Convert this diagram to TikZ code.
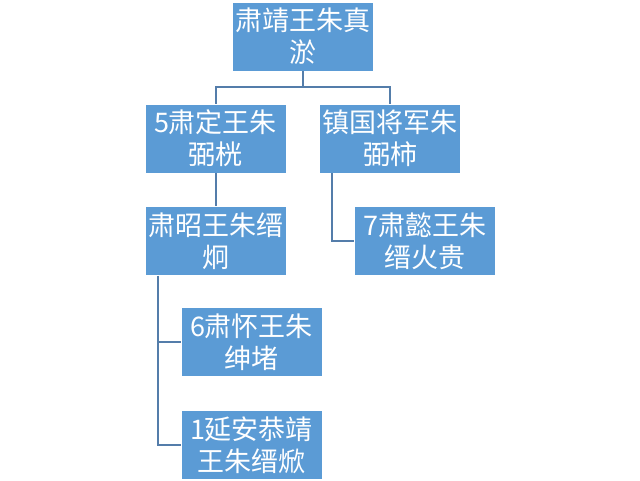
\documentclass[tikz,border=0pt]{standalone}
\usepackage{fontspec}
\newfontfamily\cjk{Noto Sans CJK SC}
\begin{document}
\begin{tikzpicture}[x=1pt, y=1pt,
    person/.style={fill={rgb,255:red,91;green,155;blue,213}, draw=white, line width=0.8pt,
        minimum width=141pt, minimum height=69pt, inner sep=0pt, text=white,
        align=center, font=\cjk\fontsize{27}{32}\selectfont},
    link/.style={draw={rgb,255:red,84;green,125;blue,170}, line width=2pt}]
    \useasboundingbox (0,0) rectangle (640,480);

    \node[person] (top) at (302.5, 443.5) {肃靖王朱真\\淤};
    \node[person] (ding) at (215.5, 341.5) {5肃定王朱\\弼桄};
    \node[person] (zhen) at (390, 341.5) {镇国将军朱\\弼柿};
    \node[person] (zhao) at (215.5, 239) {肃昭王朱缙\\炯};
    \node[person] (yi) at (425, 239) {7肃懿王朱\\缙火贵};
    \node[person] (huai) at (251.5, 138) {6肃怀王朱\\绅堵};
    \node[person] (yan) at (251.5, 35) {1延安恭靖\\王朱缙焮};

    \draw[link] (top.south) -- ++(0,-16) -| (ding.north);
    \draw[link] (top.south) -- ++(0,-16) -| (zhen.north);
    \draw[link] (ding) -- (zhao);
    \draw[link] ([xshift=13pt]zhen.south west) |- (yi.west);
    \draw[link] ([xshift=13pt]zhao.south west) |- (huai.west);
    \draw[link] ([xshift=13pt]zhao.south west) |- (yan.west);
\end{tikzpicture}
\end{document}
